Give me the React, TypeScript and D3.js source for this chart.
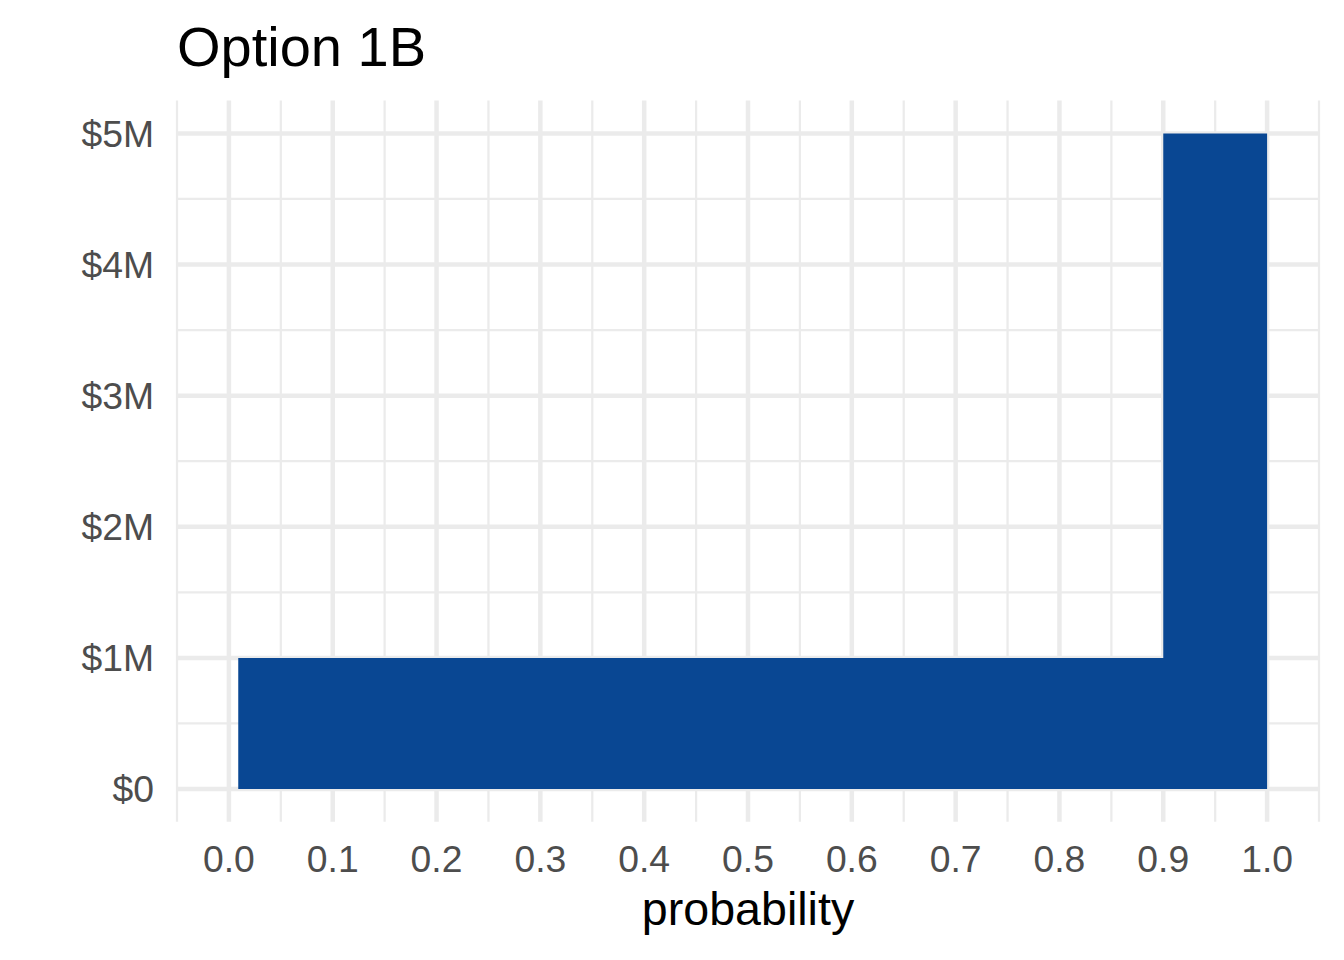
import React, { useEffect, useRef } from 'react';
import * as d3 from 'd3';

// step outline of the payoff, probability on x, payoff in $M on y
const probabilities = [0.009, 0.9, 0.9, 1.0];
const payoffs = [1, 1, 5, 5];

const xTicks = [0, 0.1, 0.2, 0.3, 0.4, 0.5, 0.6, 0.7, 0.8, 0.9, 1.0];
const xMinorTicks = [-0.05, 0.05, 0.15, 0.25, 0.35, 0.45, 0.55, 0.65, 0.75, 0.85, 0.95, 1.05];
const yTicks = [0, 1, 2, 3, 4, 5];
const yMinorTicks = [0.5, 1.5, 2.5, 3.5, 4.5];
const yTickLabels = ['$0', '$1M', '$2M', '$3M', '$4M', '$5M'];

const title = 'Option 1B';
const xTitle = 'probability';

const App: React.FC = () => {
  const svgRef = useRef<SVGSVGElement>(null);

  useEffect(() => {
    if (!svgRef.current) return;

    const width = 1344;
    const height = 960;
    const panel = { left: 177, right: 1319, top: 100.6, bottom: 821.8 };
    const font = "'Liberation Sans', Arial, Helvetica, sans-serif";

    const svg = d3.select(svgRef.current);
    svg.selectAll('*').remove();

    // ggplot style 5% expansion on both axes
    const x = d3.scaleLinear().domain([-0.05, 1.05]).range([panel.left, panel.right]);
    const y = d3.scaleLinear().domain([-0.25, 5.25]).range([panel.bottom, panel.top]);

    const grid = svg.append('g').attr('class', 'grid');

    // minor grid first, then major on top
    grid
      .selectAll('line.xminor')
      .data(xMinorTicks)
      .enter()
      .append('line')
      .attr('x1', (d) => x(d))
      .attr('x2', (d) => x(d))
      .attr('y1', panel.top)
      .attr('y2', panel.bottom)
      .attr('stroke', '#ebebeb')
      .attr('stroke-width', 2.25);

    grid
      .selectAll('line.yminor')
      .data(yMinorTicks)
      .enter()
      .append('line')
      .attr('x1', panel.left)
      .attr('x2', panel.right)
      .attr('y1', (d) => y(d))
      .attr('y2', (d) => y(d))
      .attr('stroke', '#ebebeb')
      .attr('stroke-width', 2.25);

    grid
      .selectAll('line.xmajor')
      .data(xTicks)
      .enter()
      .append('line')
      .attr('x1', (d) => x(d))
      .attr('x2', (d) => x(d))
      .attr('y1', panel.top)
      .attr('y2', panel.bottom)
      .attr('stroke', '#ebebeb')
      .attr('stroke-width', 4.5);

    grid
      .selectAll('line.ymajor')
      .data(yTicks)
      .enter()
      .append('line')
      .attr('x1', panel.left)
      .attr('x2', panel.right)
      .attr('y1', (d) => y(d))
      .attr('y2', (d) => y(d))
      .attr('stroke', '#ebebeb')
      .attr('stroke-width', 4.5);

    // the area
    const points = probabilities.map((p, i) => ({ p, v: payoffs[i] }));
    const area = d3
      .area<{ p: number; v: number }>()
      .x((d) => x(d.p))
      .y0(y(0))
      .y1((d) => y(d.v));

    svg.append('path').datum(points).attr('d', area).attr('fill', '#094793');

    // x tick labels
    svg
      .append('g')
      .selectAll('text')
      .data(xTicks)
      .enter()
      .append('text')
      .attr('x', (d) => x(d))
      .attr('y', 872)
      .attr('text-anchor', 'middle')
      .style('font-family', font)
      .style('font-size', '37.3px')
      .style('fill', '#4d4d4d')
      .text((d) => d.toFixed(1));

    // y tick labels
    svg
      .append('g')
      .selectAll('text')
      .data(yTicks)
      .enter()
      .append('text')
      .attr('x', 154)
      .attr('y', (d) => y(d) + 13.4)
      .attr('text-anchor', 'end')
      .style('font-family', font)
      .style('font-size', '37.3px')
      .style('fill', '#4d4d4d')
      .text((d, i) => yTickLabels[i]);

    // axis title
    svg
      .append('text')
      .attr('x', (panel.left + panel.right) / 2)
      .attr('y', 925)
      .attr('text-anchor', 'middle')
      .style('font-family', font)
      .style('font-size', '46.6px')
      .style('fill', '#000')
      .text(xTitle);

    // plot title
    svg
      .append('text')
      .attr('x', panel.left)
      .attr('y', 66)
      .style('font-family', font)
      .style('font-size', '56px')
      .style('fill', '#000')
      .text(title);

    svg.attr('width', width).attr('height', height);
  }, []);

  return (
    <div style={{ position: 'absolute', left: 0, top: 0, background: '#fff' }}>
      <svg ref={svgRef} width={1344} height={960} style={{ display: 'block' }} />
    </div>
  );
};

export default App;
